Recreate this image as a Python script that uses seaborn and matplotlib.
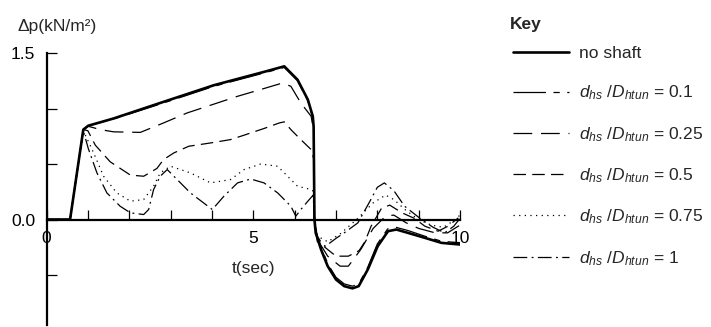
import numpy as np
import pandas as pd
import matplotlib
matplotlib.use("Agg")
import matplotlib.pyplot as plt
import seaborn as sns

# ---------------- data ----------------
t_noshaft = [0, 0.57, 0.89, 1.01, 1.62, 2.83, 4.05, 5.26, 5.75, 6.07, 6.32, 6.44, 6.46, 6.48,
             6.51, 6.64, 6.80, 7.0, 7.2, 7.4, 7.55, 7.77, 8.01, 8.26, 8.46, 8.74, 9.15, 9.55, 10.0]
dp_noshaft = [0, 0, 0.81, 0.845, 0.91, 1.06, 1.21, 1.33, 1.38, 1.26, 1.08, 0.93, 0.84, 0.0,
              -0.12, -0.27, -0.42, -0.54, -0.60, -0.62, -0.60, -0.45, -0.24, -0.105, -0.09, -0.12, -0.165, -0.21, -0.225]

t_01 = [0, 0.57, 0.89, 1.01, 1.62, 2.83, 4.05, 5.26, 5.75, 6.07, 6.32, 6.44, 6.46, 6.48,
        6.52, 6.66, 6.82, 7.0, 7.2, 7.4, 7.55, 7.77, 8.0, 8.25, 8.45, 8.75, 9.15, 9.55, 10.0]
dp_01 = [0, 0, 0.81, 0.845, 0.905, 1.05, 1.20, 1.32, 1.37, 1.25, 1.07, 0.92, 0.83, 0.0,
         -0.12, -0.27, -0.41, -0.52, -0.58, -0.60, -0.58, -0.43, -0.22, -0.085, -0.07, -0.10, -0.15, -0.195, -0.21]

t_025 = [0, 0.57, 0.89, 1.01, 1.3, 1.62, 2.27, 2.83, 3.40, 3.97, 4.62, 5.26, 5.71, 5.91, 6.15, 6.40, 6.46, 6.48,
         6.55, 6.8, 7.1, 7.3, 7.6, 7.9, 8.2, 8.4, 8.7, 9.0, 9.4, 9.7, 10.0]
dp_025 = [0, 0, 0.81, 0.84, 0.81, 0.79, 0.785, 0.87, 0.96, 1.03, 1.11, 1.18, 1.23, 1.20, 1.05, 0.93, 0.80, 0.0,
          -0.18, -0.33, -0.42, -0.42, -0.27, -0.08, 0.03, 0.04, -0.03, -0.08, -0.12, -0.12, -0.05]

t_05 = [0, 0.57, 0.89, 1.0, 1.18, 1.54, 2.03, 2.35, 2.67, 2.83, 3.08, 3.44, 3.97, 4.45, 4.78, 5.26, 5.63, 5.75,
        5.91, 6.15, 6.40, 6.46, 6.48, 6.55, 6.7, 7.0, 7.3, 7.56, 7.7, 7.85, 8.1, 8.3, 8.6, 8.9, 9.15, 9.47, 9.71, 9.96]
dp_05 = [0, 0, 0.81, 0.80, 0.67, 0.52, 0.40, 0.39, 0.46, 0.54, 0.60, 0.66, 0.69, 0.72, 0.76, 0.82, 0.87, 0.88,
         0.81, 0.72, 0.63, 0.55, 0.0, -0.15, -0.24, -0.33, -0.33, -0.28, -0.20, -0.06, 0.10, 0.13, 0.06, 0.01, -0.06, -0.105, -0.06, 0.015]

t_075 = [0, 0.57, 0.89, 1.14, 1.38, 1.70, 2.03, 2.35, 2.59, 2.75, 3.0, 3.48, 3.97, 4.45, 4.78, 5.18, 5.59, 5.83,
         6.07, 6.40, 6.47, 6.49, 6.55, 6.8, 7.1, 7.5, 7.9, 8.2, 8.4, 8.7, 9.0, 9.3, 9.6, 9.85, 10.0]
dp_075 = [0, 0, 0.80, 0.60, 0.39, 0.24, 0.165, 0.18, 0.30, 0.42, 0.48, 0.42, 0.33, 0.36, 0.45, 0.50, 0.48, 0.39,
          0.30, 0.27, 0.25, 0.0, -0.15, -0.20, -0.13, 0.0, 0.15, 0.22, 0.18, 0.08, 0.0, -0.05, -0.07, -0.01, 0.04]

t_1 = [0, 0.57, 0.89, 1.01, 1.22, 1.46, 1.78, 2.03, 2.35, 2.47, 2.59, 2.75, 2.92, 3.16, 3.48, 4.01, 4.29, 4.62,
       4.94, 5.26, 5.59, 5.91, 6.03, 6.15, 6.32, 6.45, 6.48, 6.55, 6.75, 7.0, 7.2, 7.53, 7.8, 8.0, 8.17, 8.4, 8.66,
       9.07, 9.35, 9.63, 9.85, 10.0]
dp_1 = [0, 0, 0.80, 0.64, 0.42, 0.24, 0.12, 0.06, 0.045, 0.09, 0.27, 0.39, 0.45, 0.36, 0.24, 0.09, 0.21, 0.33,
        0.365, 0.33, 0.24, 0.12, 0.03, 0.09, 0.165, 0.22, 0.0, -0.20, -0.24, -0.17, -0.12, -0.03, 0.15, 0.29, 0.33, 0.26, 0.12,
        0.0, -0.07, -0.12, -0.06, 0.01]

series_labels = ["no shaft",
                 r"$d_{hs}\ /D_{htun}$ = 0.1",
                 r"$d_{hs}\ /D_{htun}$ = 0.25",
                 r"$d_{hs}\ /D_{htun}$ = 0.5",
                 r"$d_{hs}\ /D_{htun}$ = 0.75",
                 r"$d_{hs}\ /D_{htun}$ = 1"]
x_ticks = list(range(0, 11))
x_tick_labels = ["0", "", "", "", "", "5", "", "", "", "", "10"]
y_ticks = [-0.5, 0.0, 0.5, 1.0, 1.5]
y_tick_labels = ["", "0.0", "", "", "1.5"]

# ---------------- styling ----------------
sns.set_style("white")
plt.rcParams["font.family"] = ["Liberation Sans", "DejaVu Sans"]
plt.rcParams["mathtext.fontset"] = "custom"
plt.rcParams["mathtext.rm"] = "Liberation Sans"
plt.rcParams["mathtext.it"] = "Liberation Sans:italic"
plt.rcParams["mathtext.bf"] = "Liberation Sans:bold"
FS = 12.5

fig = plt.figure(figsize=(7.11, 3.27), dpi=100)
ax = fig.add_axes([46.5 / 711, 2 / 327, (460 - 46.5) / 711, (325 - 53) / 327])

series = [(t_noshaft, dp_noshaft, 1.9, "-"),
          (t_01, dp_01, 0.9, (0, (26, 6, 5, 6))),
          (t_025, dp_025, 0.9, (0, (15, 7))),
          (t_05, dp_05, 0.9, (0, (10, 5))),
          (t_075, dp_075, 0.9, (0, (1, 3.5))),
          (t_1, dp_1, 0.9, (0, (11, 3.5, 1.5, 3.5)))]

handles = []
for (tt, dd, lw, ls), lab in zip(series, series_labels):
    df = pd.DataFrame({"t": tt, "dp": dd})
    sns.lineplot(data=df, x="t", y="dp", ax=ax, color="black", linewidth=lw,
                 linestyle=ls, estimator=None, sort=False, label=lab, legend=False)
    handles.append(ax.lines[-1])

ax.set_xlim(0, 10)
ax.set_ylim(-0.95, 1.5)
for s in ["top", "right"]:
    ax.spines[s].set_visible(False)
ax.spines["bottom"].set_position(("data", 0))
ax.spines["left"].set_position(("data", 0))
for s in ["bottom", "left"]:
    ax.spines[s].set_color("black")
    ax.spines[s].set_linewidth(1.6)

ax.set_xticks(x_ticks)
ax.set_xticklabels(x_tick_labels)
ax.set_yticks(y_ticks)
ax.set_yticklabels(y_tick_labels)
ax.tick_params(axis="both", which="major", bottom=True, left=True, direction="in",
               length=7, width=0.9, color="black", labelsize=FS, labelcolor="black")
ax.tick_params(axis="x", pad=8)
ax.tick_params(axis="y", pad=8)
ax.set_xlabel("")
ax.set_ylabel("")

ax.text(5.0, -0.44, "t(sec)", ha="center", va="center", fontsize=FS)
fig.text(18 / 711, 1 - 26 / 327, "Δp(kN/m²)", ha="left", va="center", fontsize=FS)
fig.text(510 / 711, 1 - 25 / 327, "Key", ha="left", va="center", fontsize=FS, weight="bold")

leg = ax.legend(handles, series_labels, loc="upper left",
                bbox_to_anchor=(513 / 711, 1 - 46 / 327), bbox_transform=fig.transFigure,
                frameon=False, fontsize=FS,
                handlelength=3.2, handletextpad=0.6, labelspacing=1.3,
                borderpad=0, borderaxespad=0)

fig.savefig("out.png", dpi=100)
